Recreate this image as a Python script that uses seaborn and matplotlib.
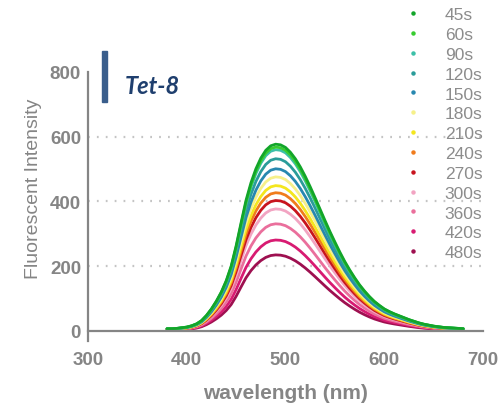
import matplotlib
matplotlib.use("Agg")
import numpy as np
import pandas as pd
import matplotlib.pyplot as plt
import seaborn as sns
from matplotlib.lines import Line2D
from matplotlib.patches import Rectangle
from matplotlib.ticker import MultipleLocator

# Emission wavelengths (nm) and the emission profile of the brightest scan
wavelength = list(range(380, 681, 5))
profile = [7, 7, 8, 10, 12, 16, 22, 32, 48, 68,
           92, 120, 155, 200, 262, 333, 402, 456, 499, 532,
           556, 570, 575, 573, 565, 550, 530, 505, 476, 444,
           410, 375, 340, 306, 274, 243, 214, 188, 164, 142,
           123, 106, 91, 79, 68, 60, 53, 47, 41, 35,
           30, 25, 21, 18, 15, 13, 11, 10, 9, 8, 7]

# Scan times and the peak fluorescence reached at each time
times = ["45s", "60s", "90s", "120s", "150s", "180s", "210s",
         "240s", "270s", "300s", "360s", "420s", "480s"]
peak_intensity = [577, 568, 560, 532, 501, 476, 449, 427, 403, 377, 331, 281, 235]
colors = ["#12a52a", "#38cc30", "#3cc0a8", "#2a9c9a", "#2788b0", "#f6f08a",
          "#f4e61e", "#f07c1c", "#c8141e", "#f2a4c2", "#ea6f9c", "#d81b72", "#9e1050"]

x_ticks = [300, 400, 500, 600, 700]
y_ticks = [0, 200, 400, 600, 800]
grid_levels = [200, 400, 600]

# Each scan's spectrum: the emission profile scaled to that scan's peak
prof = np.array(profile, dtype=float)
prof /= prof.max()
rows = []
for t, pk in zip(times, peak_intensity):
    for w, p in zip(wavelength, prof):
        rows.append({"wavelength": w, "intensity": p * pk, "time": t})
df = pd.DataFrame(rows)

sns.set_style("white")
plt.rcParams["font.family"] = ["Liberation Sans", "DejaVu Sans"]
gray = "#858585"

fig = plt.figure(figsize=(5.04, 4.06), dpi=100)
ax = fig.add_axes([88 / 504, 1 - 342 / 406, 395 / 504, 269 / 406])

for lvl in grid_levels:
    ax.axhline(lvl, color="#c4c4c4", lw=1.6, ls=(0, (0.8, 3.2)), zorder=0)

palette = dict(zip(times, colors))
sns.lineplot(data=df, x="wavelength", y="intensity", hue="time",
             hue_order=times[::-1], palette=palette, lw=2.0,
             legend=False, ax=ax)

ax.set_xlim(300, 700)
ax.set_ylim(-31, 800)
ax.set_xticks(x_ticks)
ax.set_yticks(y_ticks)
ax.xaxis.set_minor_locator(MultipleLocator(25))

for s in ["top", "right"]:
    ax.spines[s].set_visible(False)
ax.spines["bottom"].set_position(("data", 0))
for s in ["left", "bottom"]:
    ax.spines[s].set_color(gray)
    ax.spines[s].set_linewidth(1.6)

ax.tick_params(axis="y", which="major", direction="in", length=7, width=1.6,
               color=gray, labelcolor=gray, labelsize=13.5, pad=5)
ax.tick_params(axis="x", which="major", direction="out", length=6.5, width=1.6,
               color=gray, labelcolor=gray, labelsize=13.5, pad=8)
ax.tick_params(axis="x", which="minor", direction="out", length=4, width=1.4,
               color=gray)
for lab in ax.get_xticklabels() + ax.get_yticklabels():
    lab.set_fontweight("bold")

ax.set_xlabel("wavelength (nm)", fontsize=15, fontweight="bold", color=gray, labelpad=10.5)
ax.set_ylabel("Fluorescent Intensity", fontsize=14, color=gray)
ax.yaxis.set_label_coords(-0.116, (342 - 189) / 269)

handles = [Line2D([], [], ls="none", marker="o", ms=2.2, color=c) for c in colors]
fig.legend(handles, times, loc="upper left", bbox_to_anchor=(404 / 504, 1 - 8 / 406),
           frameon=False, fontsize=12.5, labelcolor="#8c8c8c", handlelength=1.0,
           handletextpad=1.35, labelspacing=0.27, borderaxespad=0, borderpad=0)

fig.add_artist(Rectangle((101.5 / 504, 1 - 103 / 406), 5.5 / 504, 51 / 406,
                         color="#3a5e8c", transform=fig.transFigure))
fig.text(125 / 504, 1 - 87 / 406, "Tet-8", fontsize=17, fontweight="bold",
         fontstyle="italic", color="#1f3f6e", va="center", family="Lato")

fig.savefig("out.png", dpi=100)
